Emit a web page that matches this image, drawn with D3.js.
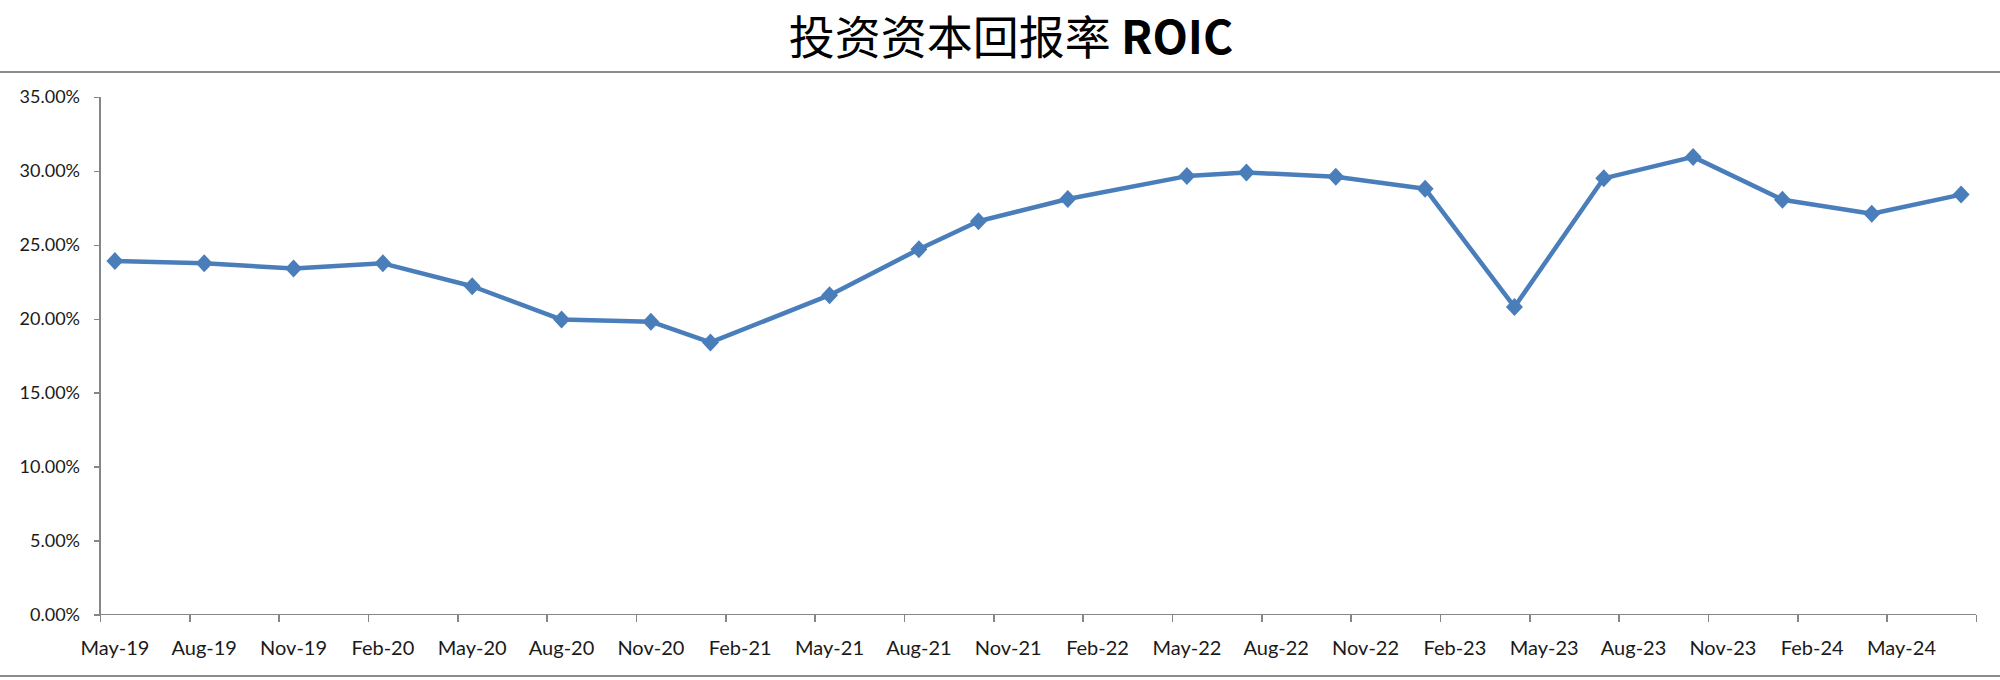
<!DOCTYPE html>
<meta charset="utf-8">
<style>
body { margin: 0; background: #fff; }
.axis path, .axis line { stroke: #868686; stroke-width: 1.5; shape-rendering: crispEdges; }
.axis text { font-family: Lato, "Open Sans", sans-serif; fill: #1a1a1a; }
.frame { stroke: #8c8c8c; stroke-width: 2; }
</style>
<svg width="2000" height="680"></svg>
<script src="https://cdnjs.cloudflare.com/ajax/libs/d3/7.8.5/d3.min.js"></script>
<script>

var dates = ["2019-05","2019-08","2019-11","2020-02","2020-05","2020-08","2020-11","2021-01",
             "2021-05","2021-08","2021-10","2022-01","2022-05","2022-07","2022-10","2023-01",
             "2023-04","2023-07","2023-10","2024-01","2024-04","2024-07"];
var roic = [23.9, 23.75, 23.4, 23.75, 22.2, 19.95, 19.8, 18.4,
            21.6, 24.7, 26.6, 28.1, 29.65, 29.9, 29.6, 28.8,
            20.8, 29.5, 30.95, 28.05, 27.1, 28.4];
var xLabels = ["May-19","Aug-19","Nov-19","Feb-20","May-20","Aug-20","Nov-20","Feb-21",
               "May-21","Aug-21","Nov-21","Feb-22","May-22","Aug-22","Nov-22","Feb-23",
               "May-23","Aug-23","Nov-23","Feb-24","May-24"];
var yTicks = [0, 5, 10, 15, 20, 25, 30, 35];

var svg = d3.select("svg"),
    width = +svg.attr("width"),
    height = +svg.attr("height");

var parseDate = d3.timeParse("%Y-%m"),
    parseLabel = d3.timeParse("%b-%y"),
    start = parseDate(dates[0]);

// date axis in months, ticks every 3 months, points centred in their month slot
function monthIndex(d) { return d3.timeMonth.count(start, d); }

var x = d3.scaleLinear()
    .domain([0, 63])
    .range([100, 1976]);

var y = d3.scaleLinear()
    .domain([0, 35])
    .range([614.5, 97]);

svg.append("line").attr("class", "frame")
    .attr("x1", 0).attr("x2", width).attr("y1", 72).attr("y2", 72);
svg.append("line").attr("class", "frame")
    .attr("x1", 0).attr("x2", width).attr("y1", 676).attr("y2", 676);

svg.append("text")
    .attr("x", 1011)
    .attr("y", 54)
    .attr("text-anchor", "middle")
    .attr("font-family", "'Noto Sans CJK SC', sans-serif")
    .attr("font-size", 46)
    .attr("fill", "#000")
    .text("投资资本回报率 ")
  .append("tspan")
    .attr("font-weight", "bold")
    .text("ROIC");

var yAxis = svg.append("g")
    .attr("class", "axis")
    .attr("transform", "translate(100,0)")
    .call(d3.axisLeft(y)
      .tickValues(yTicks)
      .tickSize(6)
      .tickPadding(14)
      .tickFormat(function(d) { return d3.format(".2f")(d) + "%"; }));
yAxis.select(".domain").attr("d", "M0," + y(35) + "V" + y(0));
yAxis.selectAll("text").attr("font-size", 18);

var xAxis = svg.append("g")
    .attr("class", "axis")
    .attr("transform", "translate(0," + y(0) + ")")
    .call(d3.axisBottom(x)
      .tickValues(d3.range(0, 64, 3))
      .tickSize(7)
      .tickFormat(""));
xAxis.select(".domain").attr("d", "M" + x(0) + ",0H" + x(63));

svg.append("g")
    .selectAll("text")
  .data(xLabels)
  .enter().append("text")
    .attr("x", function(d) { return x(monthIndex(parseLabel(d)) + 0.5); })
    .attr("y", y(0) + 40)
    .attr("text-anchor", "middle")
    .attr("font-family", "Lato, 'Open Sans', sans-serif")
    .attr("font-size", 20)
    .attr("fill", "#1a1a1a")
    .text(function(d) { return d; });

var points = dates.map(function(d, i) {
  return { xi: monthIndex(parseDate(d)) + 0.5, v: roic[i] };
});

var line = d3.line()
    .x(function(d) { return x(d.xi); })
    .y(function(d) { return y(d.v); });

svg.append("path")
    .datum(points)
    .attr("fill", "none")
    .attr("stroke", "#4a7ebb")
    .attr("stroke-width", 4.5)
    .attr("stroke-linejoin", "round")
    .attr("d", line);

// Excel-style diamond marker, about as wide as it is tall
var diamond = "M0,-9L8.5,0L0,9L-8.5,0Z";

svg.append("g")
    .selectAll("path")
  .data(points)
  .enter().append("path")
    .attr("d", diamond)
    .attr("transform", function(d) { return "translate(" + x(d.xi) + "," + y(d.v) + ")"; })
    .attr("fill", "#4a7ebb");

</script>
